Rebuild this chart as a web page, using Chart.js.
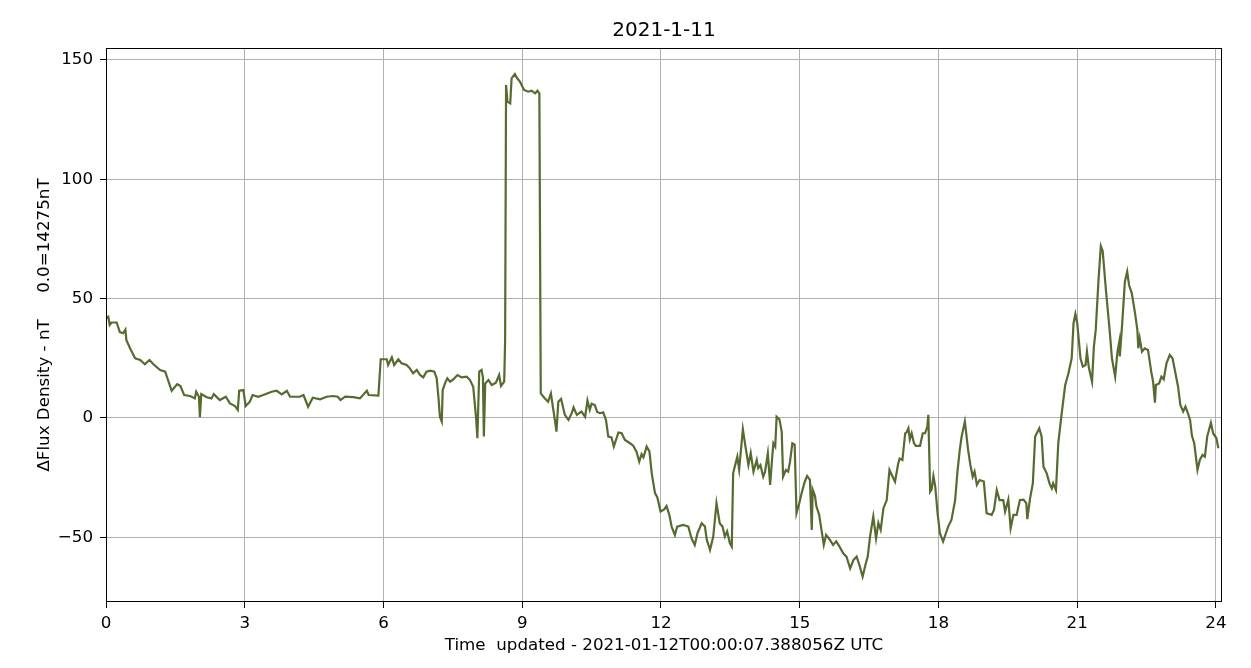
<!DOCTYPE html>
<html>
<head>
<meta charset="utf-8">
<script src="https://cdn.jsdelivr.net/npm/chart.js@4/dist/chart.umd.min.js"></script>
<style>
  html, body { margin: 0; padding: 0; background: #ffffff; }
  #wrap { width: 1251px; height: 668px; }
</style>
</head>
<body>
<div id="wrap"><canvas id="fluxChart" width="1251" height="668"></canvas></div>
<script>
// ------------- //
//  CHART DATA   //
// ------------- //

// Hours since midnight (UTC)
var hours = [
  0.00, 0.05, 0.08, 0.12, 0.23, 0.30, 0.37, 0.42, 0.44, 0.52, 0.63, 0.74, 0.84, 0.94, 1.02, 1.17, 1.28,
  1.42, 1.54, 1.61, 1.69, 1.82, 1.92, 1.95, 2.01, 2.03, 2.06, 2.18, 2.28, 2.33, 2.46, 2.59, 2.68, 2.79,
  2.85, 2.88, 2.97, 3.02, 3.11, 3.17, 3.29, 3.40, 3.58, 3.69, 3.80, 3.91, 3.98, 4.19, 4.27, 4.37, 4.47,
  4.63, 4.77, 4.91, 5.01, 5.07, 5.17, 5.35, 5.49, 5.64, 5.68, 5.89, 5.94, 6.07, 6.10, 6.18, 6.23, 6.32,
  6.39, 6.50, 6.57, 6.64, 6.72, 6.79, 6.86, 6.93, 7.01, 7.10, 7.15, 7.19, 7.22, 7.26, 7.28, 7.33, 7.38,
  7.44, 7.51, 7.60, 7.69, 7.80, 7.87, 7.94, 8.00, 8.03, 8.07, 8.12, 8.15, 8.17, 8.20, 8.27, 8.34, 8.43,
  8.50, 8.54, 8.61, 8.63, 8.65, 8.68, 8.74, 8.77, 8.84, 8.89, 8.95, 9.04, 9.13, 9.20, 9.28, 9.33, 9.37,
  9.40, 9.49, 9.56, 9.62, 9.66, 9.71, 9.74, 9.78, 9.84, 9.92, 10.00, 10.07, 10.11, 10.18, 10.28, 10.36,
  10.41, 10.46, 10.50, 10.57, 10.62, 10.68, 10.75, 10.81, 10.86, 10.93, 10.98, 11.08, 11.15, 11.22,
  11.33, 11.40, 11.47, 11.53, 11.58, 11.62, 11.69, 11.75, 11.80, 11.87, 11.92, 11.99, 12.07, 12.12,
  12.18, 12.23, 12.30, 12.35, 12.48, 12.59, 12.66, 12.73, 12.79, 12.88, 12.95, 12.99, 13.06, 13.13,
  13.20, 13.27, 13.33, 13.38, 13.43, 13.49, 13.53, 13.56, 13.60, 13.65, 13.69, 13.77, 13.82, 13.89,
  13.94, 14.00, 14.07, 14.10, 14.15, 14.21, 14.25, 14.31, 14.36, 14.40, 14.43, 14.47, 14.50, 14.56,
  14.61, 14.64, 14.70, 14.75, 14.79, 14.84, 14.89, 14.93, 14.99, 15.04, 15.11, 15.16, 15.22, 15.26,
  15.28, 15.33, 15.36, 15.42, 15.47, 15.52, 15.57, 15.65, 15.72, 15.79, 15.86, 15.94, 16.01, 16.09,
  16.16, 16.23, 16.29, 16.36, 16.42, 16.47, 16.52, 16.59, 16.65, 16.70, 16.75, 16.81, 16.88, 16.94,
  16.99, 17.06, 17.13, 17.16, 17.22, 17.28, 17.31, 17.35, 17.38, 17.42, 17.47, 17.51, 17.60, 17.66,
  17.71, 17.76, 17.78, 17.82, 17.85, 17.89, 17.93, 17.98, 18.03, 18.10, 18.16, 18.21, 18.28, 18.36,
  18.41, 18.46, 18.50, 18.57, 18.60, 18.64, 18.69, 18.74, 18.78, 18.83, 18.89, 18.98, 19.04, 19.15,
  19.20, 19.26, 19.32, 19.40, 19.44, 19.51, 19.56, 19.62, 19.69, 19.76, 19.84, 19.90, 19.92, 19.98,
  20.04, 20.09, 20.18, 20.23, 20.27, 20.34, 20.40, 20.45, 20.48, 20.54, 20.59, 20.66, 20.74, 20.81,
  20.88, 20.92, 20.96, 21.00, 21.07, 21.12, 21.18, 21.21, 21.25, 21.32, 21.36, 21.40, 21.46, 21.51,
  21.55, 21.62, 21.70, 21.75, 21.82, 21.87, 21.91, 21.92, 21.97, 22.03, 22.08, 22.12, 22.18, 22.25,
  22.30, 22.32, 22.35, 22.40, 22.46, 22.53, 22.60, 22.64, 22.68, 22.70, 22.77, 22.82, 22.87, 22.93,
  23.00, 23.06, 23.11, 23.18, 23.23, 23.29, 23.34, 23.38, 23.44, 23.48, 23.53, 23.60, 23.65, 23.71,
  23.76, 23.81, 23.89, 23.94, 24.01, 24.05
];

// Change in flux density (nT), 0.0 = 14275nT
var flux = [
  41.9, 42.4, 39, 40, 40, 36, 35.5, 37, 32.7, 29.2, 25, 24.3, 22.5, 24.3, 22.6, 20.1, 19.4,
  11.4, 14.2, 13.4, 9.6, 9.2, 8.2, 11, 8.9, 0.3, 10, 8.7, 8.2, 10, 7.5, 8.9, 6.1, 5,
  3.4, 11.4, 11.7, 5, 6.8, 9.6, 8.9, 9.6, 11, 11.4, 9.9, 11.4, 8.9, 8.9, 9.6, 4.7, 8.5,
  7.8, 8.9, 9.2, 8.9, 7.5, 8.9, 8.7, 8.2, 11.4, 9.6, 9.4, 24.6, 24.6, 22.2, 25.4, 22.2, 24.6,
  22.9, 22.2, 20.8, 18.7, 20.1, 18, 17, 19.4, 19.8, 19.4, 16.6, 8.2, 0.5, -1.5, 11.7, 14.5, 16.6,
  15.2, 16.2, 18, 17, 17.3, 15.9, 13.1, 0.5, -8.5, 19.4, 20.1, 17, -7.8, 14.5, 15.9, 13.8, 14.8,
  18, 13.4, 15.2, 32.7, 139.5, 132.5, 131.8, 142.3, 144.1, 142.3, 140.9, 137.4, 136.7, 137.1, 136, 137.1, 136,
  10.3, 8.2, 6.8, 10.3, 5, -1.5, -5.7, 6.8, 8, 1.3, -0.8, 2, 4.4, 1.3, 2.7, 0.5,
  7.3, 3.4, 6, 5.4, 2.5, 2, 2.4, -0.8, -7.8, -8.1, -12, -6.1, -6.4, -9.2,
  -10.6, -11.6, -14.1, -18.3, -15.2, -16.5, -12, -14, -23.2, -31.5, -33.2, -39.2, -38.3, -36.9,
  -40.6, -45.5, -49, -45.5, -44.8, -45.5, -50.4, -53.2, -48.2, -44.1, -45.5, -51, -55.3, -49.7,
  -35.7, -44.1, -45.5, -49.7, -47.5, -52.5, -53.9, -23.2, -20, -16.2, -21.6, -4.7, -11.2, -19.7,
  -14.7, -22.5, -17.6, -21, -19.7, -24.6, -22.5, -14.8, -28, -17.6, -10.6, -12, 0.5, -0.6,
  -5.7, -24.6, -21.8, -22.5, -18.3, -10.6, -11.2, -39.9, -35.7, -31.5, -26.6, -24.3, -25.9, -46.9,
  -30, -32.7, -37, -40.6, -46.9, -53.2, -49, -51, -53.2, -51.7, -53.9, -56.7, -58.1, -63,
  -59.5, -58.1, -61.6, -66.5, -61.6, -58.1, -49.7, -41.3, -50.5, -44, -46.9, -37.8, -34.5, -21.8,
  -23.9, -26.7, -19, -17, -17.6, -6.4, -6, -4.3, -9, -6.4, -10.6, -11.7, -11.7, -6.4,
  -6.4, -3.6, 1.3, -30.9, -30, -24.3, -28.8, -39.9, -48.3, -51.8, -48.3, -45.5, -42.7, -34.4,
  -22.5, -13.4, -7.8, -1.5, -6.5, -13.4, -19.7, -24.6, -22.5, -28, -26, -26.6, -39.9, -40.6,
  -38.5, -30.2, -34.4, -34.4, -39.2, -34.2, -46.2, -40.6, -40.6, -34.4, -34.2, -35.8, -42.4, -33.7,
  -27.4, -7.8, -4.3, -7.8, -20.4, -23.2, -27.4, -29.5, -27.4, -30.2, -10.6, 1.3, 13.8, 18.7,
  25, 39.7, 43.6, 39.7, 25, 21.5, 22.2, 27.8, 21.2, 15.2, 29.9, 36.9, 57.8, 72,
  70, 53.6, 36.9, 25, 17.3, 27.8, 32, 25.8, 39, 57.1, 61.3, 55.7, 52.2, 43.8,
  36.9, 29.2, 33.4, 27.8, 29.2, 28.5, 19.4, 15.2, 6.4, 13.8, 14.5, 17.3, 16.2, 22.9,
  26.4, 25, 20.1, 13.1, 5.4, 2.7, 4.8, 2.7, -0.8, -7.5, -10.6, -21.8, -17.6, -15.5,
  -16.2, -7.8, -2, -6.5, -8.5, -12.7
];

// Tick labels on each axis
var xTicks = [0, 3, 6, 9, 12, 15, 18, 21, 24];
var yTicks = [-50, 0, 50, 100, 150];

var chartTitle = "2021-1-11";
var xTitle = "Time  updated - 2021-01-12T00:00:07.388056Z UTC";
var yTitle = "\u0394Flux Density - nT     0.0=14275nT";


// ------------------ //
//  HELPER FUNCTIONS  //
// ------------------ //

var fontFamily = "'DejaVu Sans', sans-serif";

// Matplotlib style minus sign for negative tick labels
function tickText(value)
{
  return String(value).replace("-", "\u2212");
}

// Draws the black box round the plot area (matplotlib spines)
// and the title centred over the plot area rather than the canvas
var frameAndTitle = {
  id: "frameAndTitle",
  afterDatasetsDraw: function (chart) {
    var a = chart.chartArea;
    var ctx = chart.ctx;
    ctx.save();
    ctx.strokeStyle = "#000000";
    ctx.lineWidth = 1;
    ctx.strokeRect(Math.round(a.left) + 0.5, Math.round(a.top) + 0.5,
                   Math.round(a.right - a.left) - 1, Math.round(a.bottom - a.top) - 1);

    ctx.fillStyle = "#000000";
    ctx.font = "20px " + fontFamily;
    ctx.textAlign = "center";
    ctx.textBaseline = "middle";
    ctx.fillText(chartTitle, (a.left + a.right) / 2, 31);
    ctx.restore();
  }
};


// ----------- //
//  THE CHART  //
// ----------- //

var points = hours.map(function (h, i) { return { x: h, y: flux[i] }; });

const ctx = document.getElementById("fluxChart");
new Chart(ctx, {
  type: "line",
  data: {
    datasets: [{
      label: "Flux",
      data: points,
      borderColor: "#556b2f",
      borderWidth: 2.2,
      pointRadius: 0,
      tension: 0,
      fill: false
    }]
  },
  options: {
    responsive: false,
    animation: false,
    layout: {
      padding: { left: 0, right: 29, top: 48, bottom: 0 }
    },
    plugins: {
      legend: { display: false },
      tooltip: { enabled: false },
      title: { display: false }
    },
    scales: {
      x: {
        type: "linear",
        min: 0,
        max: 24.13,
        afterFit: function (scale) { scale.height = 66; },
        afterBuildTicks: function (scale) {
          scale.ticks = xTicks.map(function (v) { return { value: v }; });
        },
        ticks: {
          color: "#000000",
          padding: 6,
          maxRotation: 0,
          font: { family: fontFamily, size: 16.7 },
          callback: function (v) { return tickText(v); }
        },
        grid: {
          color: "#b0b0b0",
          lineWidth: 1,
          tickColor: "#000000",
          tickLength: 6
        },
        border: { display: false },
        title: {
          display: true,
          text: xTitle,
          color: "#000000",
          font: { family: fontFamily, size: 16.7 },
          padding: { top: 0, bottom: 12 }
        }
      },
      y: {
        type: "linear",
        min: -77.1,
        max: 155,
        afterFit: function (scale) { scale.width = 106; },
        afterBuildTicks: function (scale) {
          scale.ticks = yTicks.map(function (v) { return { value: v }; });
        },
        ticks: {
          color: "#000000",
          padding: 7,
          font: { family: fontFamily, size: 16.7 },
          callback: function (v) { return tickText(v); }
        },
        grid: {
          color: "#b0b0b0",
          lineWidth: 1,
          tickColor: "#000000",
          tickLength: 6
        },
        border: { display: false },
        title: {
          display: true,
          text: yTitle,
          color: "#000000",
          font: { family: fontFamily, size: 16.7 },
          padding: { top: 35, bottom: 0 }
        }
      }
    }
  },
  plugins: [frameAndTitle]
});
</script>
</body>
</html>
